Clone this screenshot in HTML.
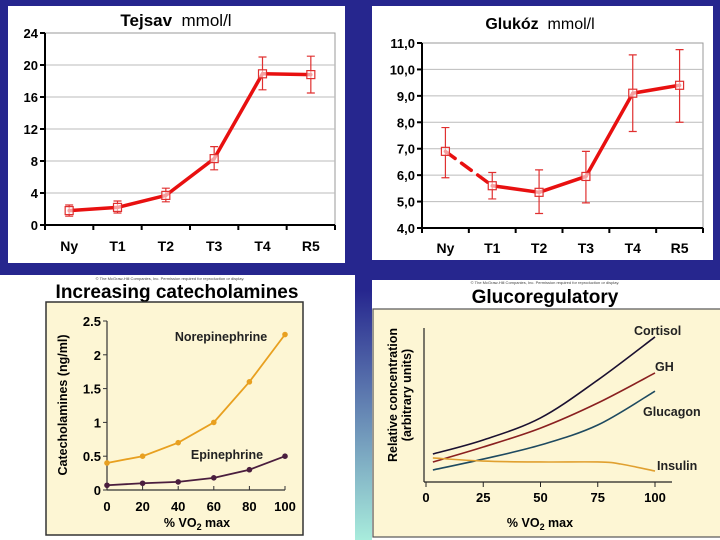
<!DOCTYPE html>
<html><head><meta charset="utf-8"><style>
body{margin:0;width:720px;height:540px;overflow:hidden;background:#26268e;font-family:"Liberation Sans",sans-serif;}
svg{display:block}
</style></head><body>
<svg id="s" width="720" height="540" xmlns="http://www.w3.org/2000/svg">
<defs><linearGradient id="strip" x1="0" y1="0" x2="0" y2="1"><stop offset="0" stop-color="#26268e"/><stop offset="1" stop-color="#a8ecdc"/></linearGradient></defs>
<rect x="354" y="290" width="20" height="250" fill="url(#strip)"/>
<!-- panel 1 -->
<g>
<rect x="8" y="6" width="337" height="257" fill="#fff"/>
<text x="176" y="26" text-anchor="middle" font-size="17" font-weight="bold">Tejsav <tspan font-weight="normal">&#160;mmol/l</tspan></text>
<g id="p1"></g>
</g>
<!-- panel 2 -->
<g>
<rect x="372" y="6" width="341" height="254" fill="#fff"/>
<text x="540" y="29" text-anchor="middle" font-size="16" font-weight="bold">Glukóz <tspan font-weight="normal">&#160;mmol/l</tspan></text>
<g id="p2"></g>
</g>
<!-- panel 3 -->
<g>
<rect x="0" y="275" width="355" height="265" fill="#fff"/>
<text x="170" y="280" text-anchor="middle" font-size="4" fill="#444">© The McGraw-Hill Companies, Inc. Permission required for reproduction or display.</text>
<text x="177" y="298" text-anchor="middle" font-size="19" font-weight="bold">Increasing catecholamines</text>
<rect x="46" y="302" width="257" height="233" fill="#fdf6d4" stroke="#333" stroke-width="1.5"/>
<g id="p3"></g>
</g>
<!-- panel 4 -->
<g>
<rect x="372" y="280" width="348" height="260" fill="#fff"/>
<text x="545" y="284" text-anchor="middle" font-size="4" fill="#444">© The McGraw-Hill Companies, Inc. Permission required for reproduction or display.</text>
<text x="545" y="303" text-anchor="middle" font-size="19" font-weight="bold">Glucoregulatory</text>
<rect x="373" y="309" width="350" height="228" fill="#fdf6d4" stroke="#555" stroke-width="1.2"/>
<g id="p4"></g>
</g>
</svg>
<script>
const lacCats=["Ny","T1","T2","T3","T4","R5"];
const lacVals=[1.8,2.2,3.7,8.3,18.9,18.8];
const lacLo=[1.1,1.5,2.9,6.9,16.9,16.5];
const lacHi=[2.5,3.0,4.6,9.8,21.0,21.1];
const lacTicks=[0,4,8,12,16,20,24];
const gluCats=["Ny","T1","T2","T3","T4","R5"];
const gluVals=[6.9,5.6,5.35,5.95,9.1,9.4];
const gluLo=[5.9,5.1,4.55,4.95,7.65,8.0];
const gluHi=[7.8,6.1,6.2,6.9,10.55,10.75];
const gluTicks=[4,5,6,7,8,9,10,11];
const catX=[0,20,40,60,80,100];
const norVals=[0.4,0.5,0.7,1.0,1.6,2.3];
const epiVals=[0.07,0.1,0.12,0.18,0.3,0.5];
const catTicks=[0,0.5,1,1.5,2,2.5];
const catTickLabels=["0","0.5","1","1.5","2","2.5"];
const hormX=[3,25,50,75,100];
const cortisolVals=[18.2,27.3,41.6,66.2,94.2];
const ghVals=[13,22.7,35,51.3,70.8];
const glucagonVals=[7.8,14.9,24,37,59];
const insulinX=[3,25,50,75,85,100];
const insulinVals=[15.6,13.6,13,13,11.7,7.1];
const hormTicks=[0,25,50,75,100];

const NS="http://www.w3.org/2000/svg";
function mk(parent,tag,attrs,txt){const e=document.createElementNS(NS,tag);for(const k in attrs)e.setAttribute(k,attrs[k]);if(txt!==undefined)e.textContent=txt;parent.appendChild(e);return e;}

function catChart(g,cats,vals,lo,hi,ticks,x0,x1,y0,y1,vmin,vmax,fmt,dashFirst,labelY,nm){
  const n=cats.length,bw=(x1-x0)/n;
  const X=i=>x0+bw*(i+0.5);
  const Y=v=>y0-(v-vmin)/(vmax-vmin)*(y0-y1);
  mk(g,'rect',{x:x0,y:y1,width:x1-x0,height:y0-y1,fill:'none',stroke:'#999'});
  ticks.forEach(t=>{
    if(t!==vmin&&t!==vmax){const l=mk(g,'line',{x1:x0,x2:x1,y1:Y(t),y2:Y(t),stroke:'#bbb'});}
    mk(g,'line',{x1:x0-5,x2:x0,y1:Y(t),y2:Y(t),stroke:'#000','stroke-width':2});
    const tl=mk(g,'text',{x:x0-7,y:Y(t)+5,'text-anchor':'end','font-size':13,'font-weight':'bold'},fmt(t));
    
  });
  mk(g,'line',{x1:x0,x2:x0,y1:y1,y2:y0,stroke:'#000','stroke-width':2});
  mk(g,'line',{x1:x0,x2:x1,y1:y0,y2:y0,stroke:'#000','stroke-width':2});
  for(let i=0;i<=n;i++)mk(g,'line',{x1:x0+bw*i,x2:x0+bw*i,y1:y0,y2:y0+5,stroke:'#000','stroke-width':2});
  cats.forEach((c,i)=>{const t=mk(g,'text',{x:X(i),y:labelY,'text-anchor':'middle','font-size':14,'font-weight':'bold'},c);});
  vals.forEach((v,i)=>{
    const e=mk(g,'path',{d:`M${X(i)},${Y(lo[i])}V${Y(hi[i])}M${X(i)-4},${Y(lo[i])}h8M${X(i)-4},${Y(hi[i])}h8`,stroke:'#e03030',fill:'none','stroke-width':1.2});
    
  });
  for(let i=0;i<n-1;i++){
    const s=mk(g,'line',{x1:X(i),y1:Y(vals[i]),x2:X(i+1),y2:Y(vals[i+1]),stroke:'#e81010','stroke-width':3.5,'stroke-linecap':'round'});
    if(dashFirst&&i===0)s.setAttribute('stroke-dasharray','12 8');
    
  }
  vals.forEach((v,i)=>{const m=mk(g,'rect',{x:X(i)-4,y:Y(v)-4,width:8,height:8,fill:'#fff','fill-opacity':0.6,stroke:'#e03030','stroke-width':1.2});});
}
catChart(document.getElementById('p1'),lacCats,lacVals,lacLo,lacHi,lacTicks,45,335,225,33,0,24,t=>String(t),false,251,'lactate');
catChart(document.getElementById('p2'),gluCats,gluVals,gluLo,gluHi,gluTicks,422,703,228,43,4,11,t=>t.toFixed(1).replace('.',','),true,253,'glucose');

// panel 3
(function(){
  const g=document.getElementById('p3');
  const x0=107,x1=285,y0=490,y1=321;
  const X=v=>x0+v/100*(x1-x0), Y=v=>y0-v/2.5*(y0-y1);
  mk(g,'line',{x1:x0,x2:x0,y1:y1,y2:y0,stroke:'#333','stroke-width':1.2});
  mk(g,'line',{x1:x0,x2:x1,y1:y0,y2:y0,stroke:'#333','stroke-width':1.2});
  catTicks.forEach((t,i)=>{mk(g,'line',{x1:x0-4,x2:x0,y1:Y(t),y2:Y(t),stroke:'#333'});const l=mk(g,'text',{x:x0-6,y:Y(t)+5,'text-anchor':'end','font-size':13,'font-weight':'bold'},catTickLabels[i]);});
  catX.forEach(v=>{mk(g,'line',{x1:X(v),x2:X(v),y1:y0,y2:y0-4,stroke:'#333'});const l=mk(g,'text',{x:X(v),y:511,'text-anchor':'middle','font-size':13,'font-weight':'bold'},String(v));});
  [[norVals,'#e8a020','norepinephrine'],[epiVals,'#4a1e3e','epinephrine']].forEach(([vals,c,nm])=>{
    const p=mk(g,'polyline',{points:vals.map((v,i)=>X(catX[i])+','+Y(v)).join(' '),fill:'none',stroke:c,'stroke-width':1.8});
    
    vals.forEach((v,i)=>{const d=mk(g,'circle',{cx:X(catX[i]),cy:Y(v),r:2.8,fill:c});});
  });
  mk(g,'text',{x:221,y:341,'text-anchor':'middle','font-size':12.5,'font-weight':'bold',fill:'#222',},'Norepinephrine');
  mk(g,'text',{x:227,y:459,'text-anchor':'middle','font-size':12.5,'font-weight':'bold',fill:'#222',},'Epinephrine');
  mk(g,'text',{x:0,y:0,transform:'translate(67,405) rotate(-90)','text-anchor':'middle','font-size':12.5,'font-weight':'bold',},'Catecholamines (ng/ml)');
  const t=mk(g,'text',{x:197,y:527,'text-anchor':'middle','font-size':12.5,'font-weight':'bold',},'% VO');
  mk(t,'tspan',{'font-size':9,dy:3},'2');mk(t,'tspan',{dy:-3},' max');
})();

// panel 4
(function(){
  const g=document.getElementById('p4');
  const x0=426,x1=655,y0=482,y1=328;
  const X=v=>x0+v/100*(x1-x0), Y=v=>y0-v/100*(y0-y1);
  mk(g,'line',{x1:424,x2:424,y1:328,y2:y0,stroke:'#222','stroke-width':1.2});
  mk(g,'line',{x1:424,x2:672,y1:y0,y2:y0,stroke:'#222','stroke-width':1.2});
  hormTicks.forEach(v=>{mk(g,'line',{x1:X(v),x2:X(v),y1:y0,y2:y0+5,stroke:'#222'});const l=mk(g,'text',{x:X(v),y:502,'text-anchor':'middle','font-size':13,'font-weight':'bold'},String(v));});
  function smooth(xs,ys){const P=xs.map((x,i)=>[X(x),Y(ys[i])]);let d='M'+P[0];for(let i=0;i<P.length-1;i++){const p0=P[i-1]||P[i],p1=P[i],p2=P[i+1],p3=P[i+2]||p2;d+=`C${p1[0]+(p2[0]-p0[0])/6},${p1[1]+(p2[1]-p0[1])/6} ${p2[0]-(p3[0]-p1[0])/6},${p2[1]-(p3[1]-p1[1])/6} ${p2[0]},${p2[1]}`;}return d;}
  [[hormX,cortisolVals,'#1a1030','cortisol'],[hormX,ghVals,'#8a2020','gh'],[hormX,glucagonVals,'#1e4a60','glucagon'],[insulinX,insulinVals,'#e0a030','insulin']].forEach(([xs,vs,c,nm])=>{
    const p=mk(g,'path',{d:smooth(xs,vs),fill:'none',stroke:c,'stroke-width':1.6});
    
  });
  const lab=(x,y,s,n)=>mk(g,'text',{x:x,y:y,'font-size':12.5,'font-weight':'bold',fill:'#222',},s);
  lab(634,335,'Cortisol','cortisol-label');lab(655,371,'GH','gh-label');lab(643,416,'Glucagon','glucagon-label');lab(657,470,'Insulin','insulin-label');
  mk(g,'text',{x:0,y:0,transform:'translate(397,395) rotate(-90)','text-anchor':'middle','font-size':12.5,'font-weight':'bold',},'Relative concentration');
  mk(g,'text',{x:0,y:0,transform:'translate(411,395) rotate(-90)','text-anchor':'middle','font-size':12.5,'font-weight':'bold',},'(arbitrary units)');
  const t=mk(g,'text',{x:540,y:527,'text-anchor':'middle','font-size':12.5,'font-weight':'bold',},'% VO');
  mk(t,'tspan',{'font-size':9,dy:3},'2');mk(t,'tspan',{dy:-3},'  max');
})();
</script>
</body></html>
